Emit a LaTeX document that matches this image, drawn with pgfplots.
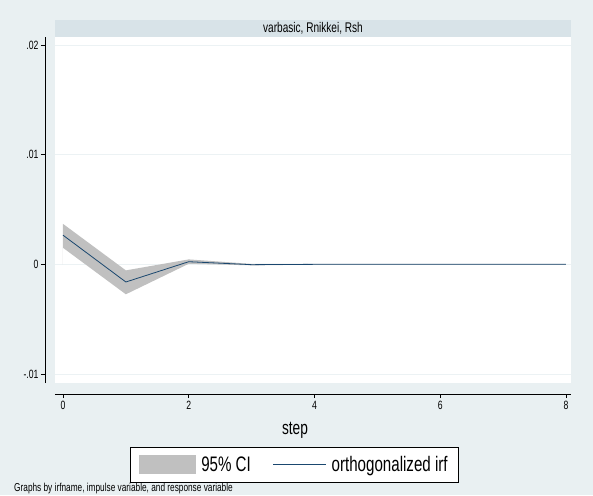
\documentclass[border=0pt]{standalone}
\usepackage{fontspec}
\setmainfont[FakeStretch=0.72]{Liberation Sans}
\usepackage{pgfplots}
\usepackage{pgfplotstable}
\pgfplotsset{compat=1.18}
\definecolor{bg}{RGB}{233,240,242}
\definecolor{strip}{RGB}{216,227,232}
\definecolor{cigray}{RGB}{192,192,192}
\definecolor{navy}{RGB}{26,71,111}
\definecolor{gridc}{RGB}{236,242,244}

% orthogonalized irf
\pgfplotstableread{
step irf
0 0.00266
1 -0.00161
2 0.00024
3 -0.00003
4 0
5 0
6 0
7 0
8 0
}\irftab

% 95% CI polygon: upper bound forward, lower bound backward
\pgfplotstableread{
step ci
0 0.00369
1 -0.00055
2 0.00045
3 0.00004
4 0.00003
5 0.00003
6 0.00003
7 0.00003
8 0.00003
8 -0.00003
7 -0.00003
6 -0.00003
5 -0.00003
4 -0.00003
3 -0.00009
2 0.00005
1 -0.00273
0 0.00151
}\citab

\begin{document}
\begin{tikzpicture}[x=1pt,y=1pt]
\fill[bg] (0,0) rectangle (593,495);
\useasboundingbox (0,0) rectangle (593,495);
\begin{axis}[
  at={(55pt,112pt)}, anchor=south west,
  width=516pt, height=346pt, scale only axis,
  xmin=-0.127, xmax=8.08, ymin=-0.01082, ymax=0.02073,
  axis background/.style={fill=white},
  axis x line*=bottom, axis y line*=left,
  axis x line shift=11pt, axis y line shift=10pt,
  axis line style={black, line width=0.8pt, -},
  xtick={0,2,4,6,8},
  ytick={-0.01,0,0.01,0.02}, yticklabels={-.01,0,.01,.02},
  scaled y ticks=false,
  tick align=outside, major tick length=4pt,
  tick style={black, line width=0.6pt},
  ymajorgrids, grid style={gridc, line width=0.8pt},
  ticklabel style={font=\fontsize{12}{14}\selectfont},
  yticklabel style={xshift=1pt},
  /pgf/number format/assume math mode=true,
  xlabel={step},
  xlabel style={font=\fontsize{19}{22}\selectfont, at={(rel axis cs:0.465,-0.150)}, anchor=base},
  legend style={at={(0.4641,-0.185)}, anchor=north, draw=black, line width=0.6pt,
    fill=white, font=\fontsize{21}{24}\selectfont, legend columns=2,
    /tikz/every odd column/.append style={column sep=3pt},
    /tikz/every even column/.append style={column sep=20pt},
    inner xsep=8.5pt, inner ysep=7pt},
  legend cell align=left,
]
\addplot[fill=cigray, draw=none,
  legend image code/.code={\fill[cigray] (0pt,-9.5pt) rectangle (57pt,9.5pt);}]
  table[x=step,y=ci]{\citab} \closedcycle;
\addlegendentry{95\% CI}
\addplot[navy, line width=0.8pt,
  legend image code/.code={\draw[navy, line width=0.8pt] (0pt,0pt) -- (53pt,0pt);}]
  table[x=step,y=irf]{\irftab};
\addlegendentry{orthogonalized irf}
\end{axis}
\fill[strip] (55,458) rectangle (571,475);
\node[font=\fontsize{14}{16}\selectfont] at (313,466.5) {varbasic, Rnikkei, Rsh};
\node[anchor=south west, inner sep=0pt, font=\fontsize{11.5}{13}\selectfont] at (14,0.5) {Graphs by irfname, impulse variable, and response variable};
\end{tikzpicture}
\end{document}
